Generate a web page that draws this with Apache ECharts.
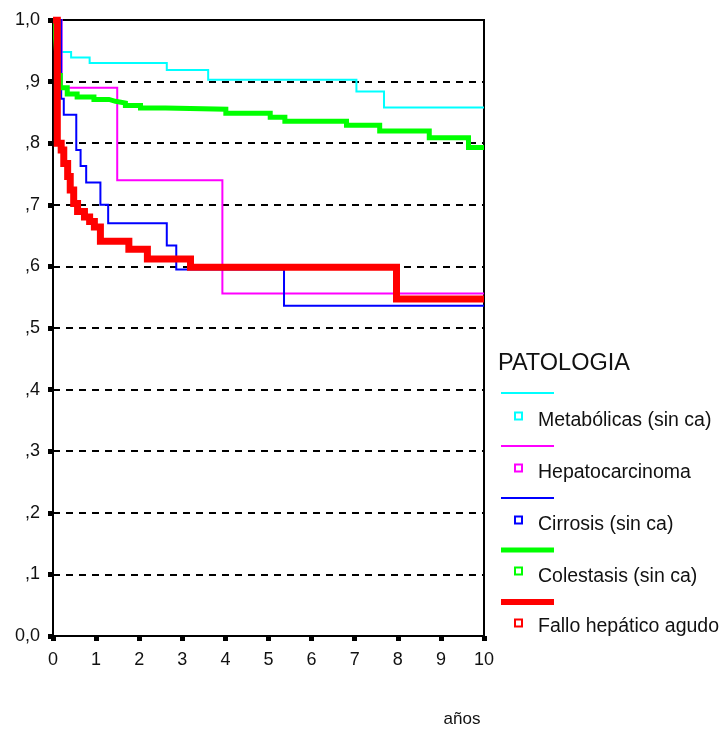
<!DOCTYPE html>
<html>
<head>
<meta charset="utf-8">
<script src="https://cdn.jsdelivr.net/npm/echarts@6/dist/echarts.min.js"></script>
<style>
html,body{margin:0;padding:0;background:#fff;}
#chart{width:728px;height:731px;}
</style>
</head>
<body>
<div id="chart"></div>
<script>
// ---- data ----
const legendTitle = 'PATOLOGIA';
const xAxisName = 'años';
const seriesNames = ['Metabólicas (sin ca)', 'Hepatocarcinoma', 'Cirrosis (sin ca)', 'Colestasis (sin ca)', 'Fallo hepático agudo'];
const xTickLabels = ['0','1','2','3','4','5','6','7','8','9','10'];
const yTickLabels = ['0,0', ',1', ',2', ',3', ',4', ',5', ',6', ',7', ',8', ',9', '1,0'];

const metabTimes = [0, 0.19, 0.42, 0.85, 2.64, 3.60, 7.04, 7.68, 10];
const metabSurv  = [1, 0.948, 0.939, 0.930, 0.919, 0.903, 0.884, 0.858, 0.858];

const hepatoTimes = [0, 0.20, 1.49, 3.93, 10];
const hepatoSurv  = [1, 0.890, 0.740, 0.556, 0.556];

const cirrTimes = [0, 0.19, 0.25, 0.54, 0.64, 0.77, 1.10, 1.28, 2.64, 2.86, 5.36, 10];
const cirrSurv  = [1, 0.872, 0.846, 0.789, 0.763, 0.736, 0.700, 0.670, 0.634, 0.595, 0.536, 0.536];

const colesTimes = [0, 0.06, 0.09, 0.12, 0.17, 0.33, 0.56, 0.95, 1.30, 1.45, 1.68, 2.03, 2.61, 4.01, 5.04, 5.38, 6.81, 7.58, 8.73, 9.64, 10];
const colesSurv  = [1, 0.97, 0.94, 0.91, 0.890, 0.880, 0.875, 0.871, 0.868, 0.865, 0.861, 0.857, 0.855, 0.8485, 0.842, 0.8355, 0.829, 0.820, 0.809, 0.793, 0.793];

const falloTimes = [0, 0.10, 0.19, 0.25, 0.34, 0.40, 0.48, 0.57, 0.73, 0.85, 0.96, 1.10, 1.76, 2.19, 3.19, 7.97, 10];
const falloSurv  = [1, 0.800, 0.789, 0.767, 0.746, 0.724, 0.702, 0.689, 0.680, 0.673, 0.664, 0.641, 0.628, 0.612, 0.5985, 0.547, 0.547];

// ---- styles ----
const colors = ['#00FFFF', '#FF00FF', '#0000FF', '#00FF00', '#FF0000'];
const widths = [2, 2, 2, 5, 7];
const legendWidths = [2, 2, 2, 5, 6];
const FONT = '"Liberation Sans", Arial, sans-serif';

const pairs = (t, v) => t.map((x, i) => [x, v[i]]);
const allData = [
  pairs(metabTimes, metabSurv),
  pairs(hepatoTimes, hepatoSurv),
  pairs(cirrTimes, cirrSurv),
  pairs(colesTimes, colesSurv),
  pairs(falloTimes, falloSurv)
];

const series = allData.map((d, i) => ({
  name: seriesNames[i],
  type: 'line',
  step: 'end',
  data: d,
  symbol: 'none',
  z: 2 + i,
  lineStyle: { color: colors[i], width: widths[i], cap: 'butt', join: 'miter' },
  itemStyle: { color: colors[i] },
  emphasis: { disabled: true }
}));

// ---- legend drawn as graphic ----
const graphics = [];
graphics.push({
  type: 'text', left: 498, top: 352,
  style: { text: legendTitle, font: '23.5px ' + FONT, fill: '#111' }
});
const lineYs = [393, 446, 498, 550, 602];
const sqYs = [416, 468, 520, 571, 623];
const txtYs = [421, 473, 525, 577, 627];
seriesNames.forEach((n, i) => {
  graphics.push({
    type: 'line',
    shape: { x1: 501, y1: lineYs[i], x2: 554, y2: lineYs[i] },
    style: { stroke: colors[i], lineWidth: legendWidths[i] }
  });
  graphics.push({
    type: 'rect',
    shape: { x: 515, y: sqYs[i] - 3.5, width: 7, height: 7 },
    style: { stroke: colors[i], lineWidth: 2, fill: '#fff' }
  });
  graphics.push({
    type: 'text', x: 538, y: txtYs[i],
    style: { text: n, font: '19.5px ' + FONT, fill: '#111', textVerticalAlign: 'middle', verticalAlign: 'middle' }
  });
});
graphics.push({
  type: 'text', x: 462, y: 719,
  style: { text: xAxisName, font: '17px ' + FONT, fill: '#111', align: 'center', verticalAlign: 'middle', textAlign: 'center', textVerticalAlign: 'middle' }
});

const chart = echarts.init(document.getElementById('chart'), null, { renderer: 'canvas' });
chart.setOption({
  animation: false,
  backgroundColor: '#fff',
  grid: { left: 53, right: 244, top: 20, bottom: 95, show: true, borderColor: '#000', borderWidth: 2, backgroundColor: 'transparent' },
  xAxis: {
    type: 'value', min: 0, max: 10, interval: 1,
    axisLine: { show: true, onZero: false, lineStyle: { color: '#000', width: 2 } },
    axisTick: { show: true, length: 5, lineStyle: { color: '#000', width: 5 } },
    axisLabel: {
      margin: 15, color: '#111', fontSize: 18, fontFamily: FONT,
      formatter: (v) => xTickLabels[Math.round(v)]
    },
    splitLine: { show: false }
  },
  yAxis: {
    type: 'value', min: 0, max: 1, interval: 0.1,
    axisLine: { show: true, lineStyle: { color: '#000', width: 2 } },
    axisTick: { show: true, length: 5, lineStyle: { color: '#000', width: 5 } },
    axisLabel: {
      margin: 13, color: '#111', fontSize: 18, fontFamily: FONT,
      formatter: (v) => yTickLabels[Math.round(v * 10)]
    },
    splitLine: { show: true, lineStyle: { color: '#000', width: 2, type: [7, 6] } }
  },
  series: series,
  graphic: graphics
});
</script>
</body>
</html>
